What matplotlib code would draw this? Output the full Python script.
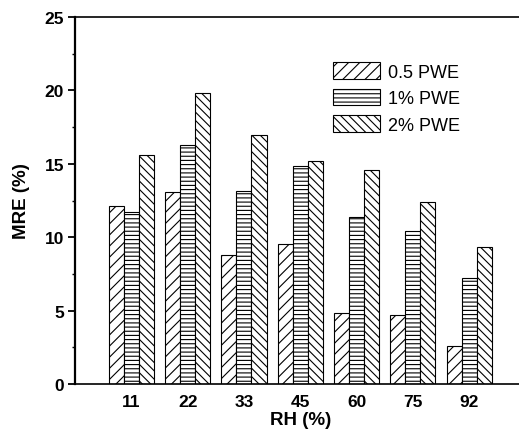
import matplotlib
matplotlib.use("Agg")
import matplotlib.pyplot as plt
from matplotlib.ticker import MultipleLocator
import numpy as np

# data
rh = ['11', '22', '33', '45', '60', '75', '92']
series = ['0.5 PWE', '1% PWE', '2% PWE']
mre_05 = [12.15, 13.06, 8.79, 9.54, 4.81, 4.70, 2.61]
mre_1 = [11.70, 16.28, 13.13, 14.83, 11.37, 10.40, 7.22]
mre_2 = [15.62, 19.84, 16.98, 15.17, 14.60, 12.38, 9.31]

plt.rcParams['font.family'] = ['Liberation Sans', 'DejaVu Sans']
plt.rcParams['hatch.linewidth'] = 0.8

fig = plt.figure(figsize=(5.19, 4.31), dpi=100)
# axes runs a little past the right edge of the picture, like the original crop
ax = fig.add_axes([75/519, 46/431, 450.6/519, 367/431])

x = np.arange(len(rh))
w = 0.8/3
hatches = ['///', '----', '\\\\\\\\']
for i, (vals, lab, h) in enumerate(zip([mre_05, mre_1, mre_2], series, hatches)):
    ax.bar(x + (i-1)*w, vals, w, label=lab, facecolor='white',
           edgecolor='black', linewidth=0.8, hatch=h)

ax.set_xlim(-1, 7)
ax.set_ylim(0, 25)
ax.set_xticks(x)
ax.set_xticklabels(rh)
ax.yaxis.set_major_locator(MultipleLocator(5))
ax.yaxis.set_minor_locator(MultipleLocator(2.5))

ax.tick_params(axis='x', length=0, pad=7, labelsize=12.5)
ax.tick_params(axis='y', which='major', direction='out', length=5, width=1.3, labelsize=12.5, pad=3)
ax.tick_params(axis='y', which='minor', direction='out', length=2.5, width=1.0)
for lbl in ax.get_xticklabels() + ax.get_yticklabels():
    lbl.set_fontweight('bold')

ax.spines['left'].set_linewidth(1.6)
ax.spines['bottom'].set_linewidth(1.2)
ax.spines['top'].set_linewidth(1.2)
ax.spines['right'].set_visible(False)

ax.set_xlabel('RH (%)', fontsize=13.5, fontweight='bold', labelpad=2)
ax.set_ylabel('MRE (%)', fontsize=13.5, fontweight='bold', labelpad=10)

ax.legend(loc='upper left', bbox_to_anchor=(333/519, 1 - 63/431),
          bbox_transform=fig.transFigure, frameon=False,
          fontsize=13, handlelength=2.6, handleheight=1.05, handletextpad=0.45,
          labelspacing=0.45, borderpad=0, borderaxespad=0)

fig.savefig('out.png', dpi=100)
